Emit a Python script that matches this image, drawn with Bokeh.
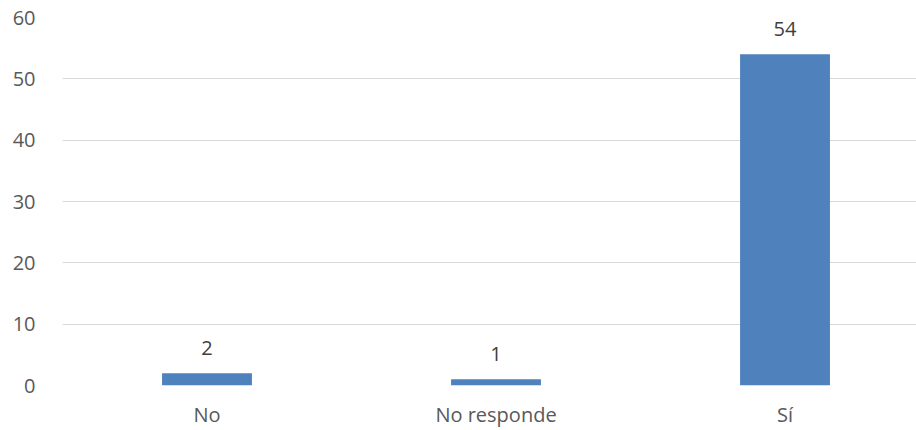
from bokeh.plotting import figure
from bokeh.models import ColumnDataSource, Range1d, FixedTicker, SingleIntervalTicker
from bokeh.core.properties import value
from bokeh.embed import file_html
from bokeh.resources import INLINE

categories = ["No", "No responde", "Sí"]
counts = [2, 1, 54]
labels = [str(v) for v in counts]

xpos = [i + 0.5 for i in range(len(categories))]
src = ColumnDataSource(dict(x=xpos, val=counts, lab=labels))

FONT = "Open Sans"

p = figure(
    width=916, height=430,
    x_range=Range1d(0, 2.955),
    y_range=Range1d(0, 60),
    output_backend="svg", toolbar_location=None,
    min_border_left=62, min_border_right=0, min_border_top=17, min_border_bottom=44,
)
p.outline_line_color = None
p.background_fill_color = "white"
p.border_fill_color = "white"

p.vbar(x="x", top="val", width=0.311, source=src, fill_color="#4F81BD", line_color=None)
p.text(x="x", y="val", text="lab", source=src, text_align="center", text_baseline="middle",
       y_offset=-25, text_font=value(FONT), text_font_size="20px", text_color="#404040")

p.xaxis.ticker = FixedTicker(ticks=xpos)
p.xaxis.major_label_overrides = {x: c for x, c in zip(xpos, categories)}
p.yaxis.ticker = SingleIntervalTicker(interval=10)
p.ygrid.grid_line_color = "#d9d9d9"
p.ygrid.grid_line_width = 1
p.xgrid.grid_line_color = None

for ax in (p.xaxis, p.yaxis):
    ax.axis_line_color = None
    ax.major_tick_line_color = None
    ax.minor_tick_line_color = None
    ax.major_tick_out = 0
    ax.major_tick_in = 0
    ax.major_label_text_font = FONT
    ax.major_label_text_font_size = "20px"
    ax.major_label_text_color = "#595959"
p.yaxis.major_label_standoff = 23
p.xaxis.major_label_standoff = 15

open("out.html", "w").write(file_html(p, INLINE))
